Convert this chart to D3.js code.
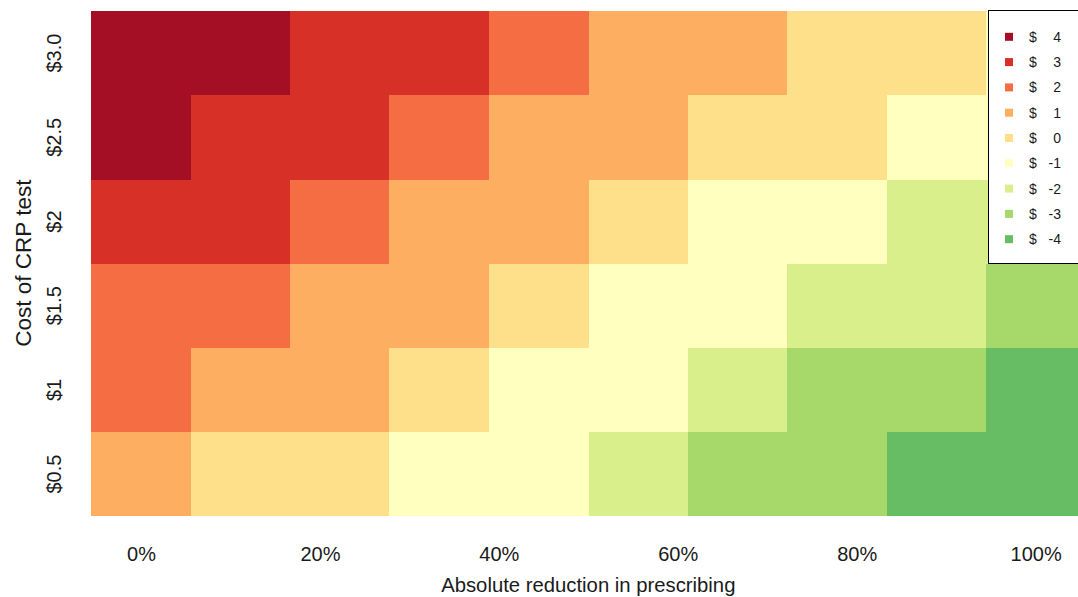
<!DOCTYPE html>
<html>
<head>
<meta charset="utf-8">
<script src="https://cdn.jsdelivr.net/npm/d3@7"></script>
<style>
  html, body { margin: 0; padding: 0; background: #ffffff; overflow: hidden; }
  svg { display: block; font-family: "Liberation Sans", Arial, Helvetica, sans-serif; }
</style>
</head>
<body>
<svg id="chart" width="1078" height="597"></svg>
<script>
// Absolute reduction in antibiotic prescribing (%), one column each
const reductions = [0, 11.1, 22.2, 33.3, 44.4, 55.6, 66.7, 77.8, 88.9, 100];
// Cost of the CRP test ($), bottom row first
const testCosts = [0.5, 1, 1.5, 2, 2.5, 3.0];
const costLabels = ["$0.5", "$1", "$1.5", "$2", "$2.5", "$3.0"];

// Net cost ($) per test cost, across the reduction columns
const netAt050 = [1, 0, 0, -1, -1, -2, -3, -3, -4, -4];
const netAt100 = [2, 1, 1, 0, -1, -1, -2, -3, -3, -4];
const netAt150 = [2, 2, 1, 1, 0, -1, -1, -2, -2, -3];
const netAt200 = [3, 3, 2, 1, 1, 0, -1, -1, -2, -2];
const netAt250 = [4, 3, 3, 2, 1, 1, 0, 0, -1, -1];
const netAt300 = [4, 4, 3, 3, 2, 1, 1, 0, 0, -1];
const netRows = [netAt050, netAt100, netAt150, netAt200, netAt250, netAt300];

// x-axis tick marks
const xTicks = [0, 20, 40, 60, 80, 100];
const xTickLabels = ["0%", "20%", "40%", "60%", "80%", "100%"];

// Legend levels and colours (RdYlGn, red = most costly)
const legendLevels = [4, 3, 2, 1, 0, -1, -2, -3, -4];
const levelColors = ["#a50f26", "#d73027", "#f46d43", "#fdae61", "#fee08b",
                     "#ffffbf", "#d9ef8b", "#a6d96a", "#66bd63"];

const svg = d3.select("#chart");

const x = d3.scaleLinear().domain([0, 100]).range([141, 1035.6]);
const y = d3.scaleLinear().domain([0.5, 3.0]).range([473.6, 52.6]);
const color = d3.scaleOrdinal().domain(legendLevels).range(levelColors);

const cellW = (x(100) - x(0)) / (reductions.length - 1);
const cellH = (y(0.5) - y(3.0)) / (testCosts.length - 1);

// heatmap cells
const cells = [];
testCosts.forEach((c, i) => {
  reductions.forEach((r, j) => {
    cells.push({ cost: c, red: r, value: netRows[i][j] });
  });
});

svg.append("g")
  .attr("shape-rendering", "crispEdges")
  .selectAll("rect")
  .data(cells)
  .join("rect")
  .attr("x", d => x(d.red) - cellW / 2)
  .attr("y", d => y(d.cost) - cellH / 2)
  .attr("width", cellW + 0.6)
  .attr("height", cellH + 0.6)
  .attr("fill", d => color(d.value));

// x-axis labels (no axis line or ticks)
const xAxis = d3.axisBottom(x).tickValues(xTicks)
  .tickFormat((d, i) => xTickLabels[i]).tickSize(0).tickPadding(0);
const gx = svg.append("g").attr("transform", "translate(0,546)").call(xAxis);
gx.select(".domain").remove();
gx.selectAll("text")
  .attr("dy", null).attr("y", 15)
  .attr("font-size", 20).attr("fill", "#1a1a1a")
  .attr("font-family", "Liberation Sans, Arial, sans-serif");

// y-axis labels, rotated
const yAxis = d3.axisLeft(y).tickValues(testCosts)
  .tickFormat((d, i) => costLabels[i]).tickSize(0).tickPadding(0);
const gy = svg.append("g").attr("transform", "translate(61,0)").call(yAxis);
gy.select(".domain").remove();
gy.selectAll(".tick text")
  .attr("x", 0).attr("y", 0).attr("dy", null)
  .attr("text-anchor", "middle")
  .attr("transform", "rotate(-90)")
  .attr("font-size", 20).attr("fill", "#1a1a1a")
  .attr("font-family", "Liberation Sans, Arial, sans-serif");

// axis titles
svg.append("text")
  .attr("x", (x(0) - cellW / 2 + x(100) + cellW / 2) / 2)
  .attr("y", 592)
  .attr("text-anchor", "middle")
  .attr("font-size", 20.3).attr("fill", "#1a1a1a")
  .text("Absolute reduction in prescribing");

svg.append("text")
  .attr("transform", `translate(31,${(y(3.0) - cellH / 2 + y(0.5) + cellH / 2) / 2}) rotate(-90)`)
  .attr("text-anchor", "middle")
  .attr("font-size", 22.5).attr("fill", "#1a1a1a")
  .text("Cost of CRP test");

// legend
const lg = svg.append("g");
lg.append("rect")
  .attr("x", 988.5).attr("y", 10.5)
  .attr("width", 110).attr("height", 253)
  .attr("fill", "#ffffff").attr("stroke", "#000000").attr("stroke-width", 1);

const items = lg.selectAll("g.item")
  .data(legendLevels)
  .join("g")
  .attr("class", "item")
  .attr("transform", (d, i) => `translate(0,${36.8 + i * 25.3})`);

items.append("rect")
  .attr("x", 1005).attr("y", -4)
  .attr("width", 8).attr("height", 8)
  .attr("fill", d => color(d));

items.append("text")
  .attr("x", 1033).attr("y", 5)
  .attr("text-anchor", "middle")
  .attr("font-size", 14).attr("fill", "#1a1a1a")
  .text("$");

items.append("text")
  .attr("x", 1061).attr("y", 5)
  .attr("text-anchor", "end")
  .attr("font-size", 14).attr("fill", "#1a1a1a")
  .text(d => d);
</script>
</body>
</html>
